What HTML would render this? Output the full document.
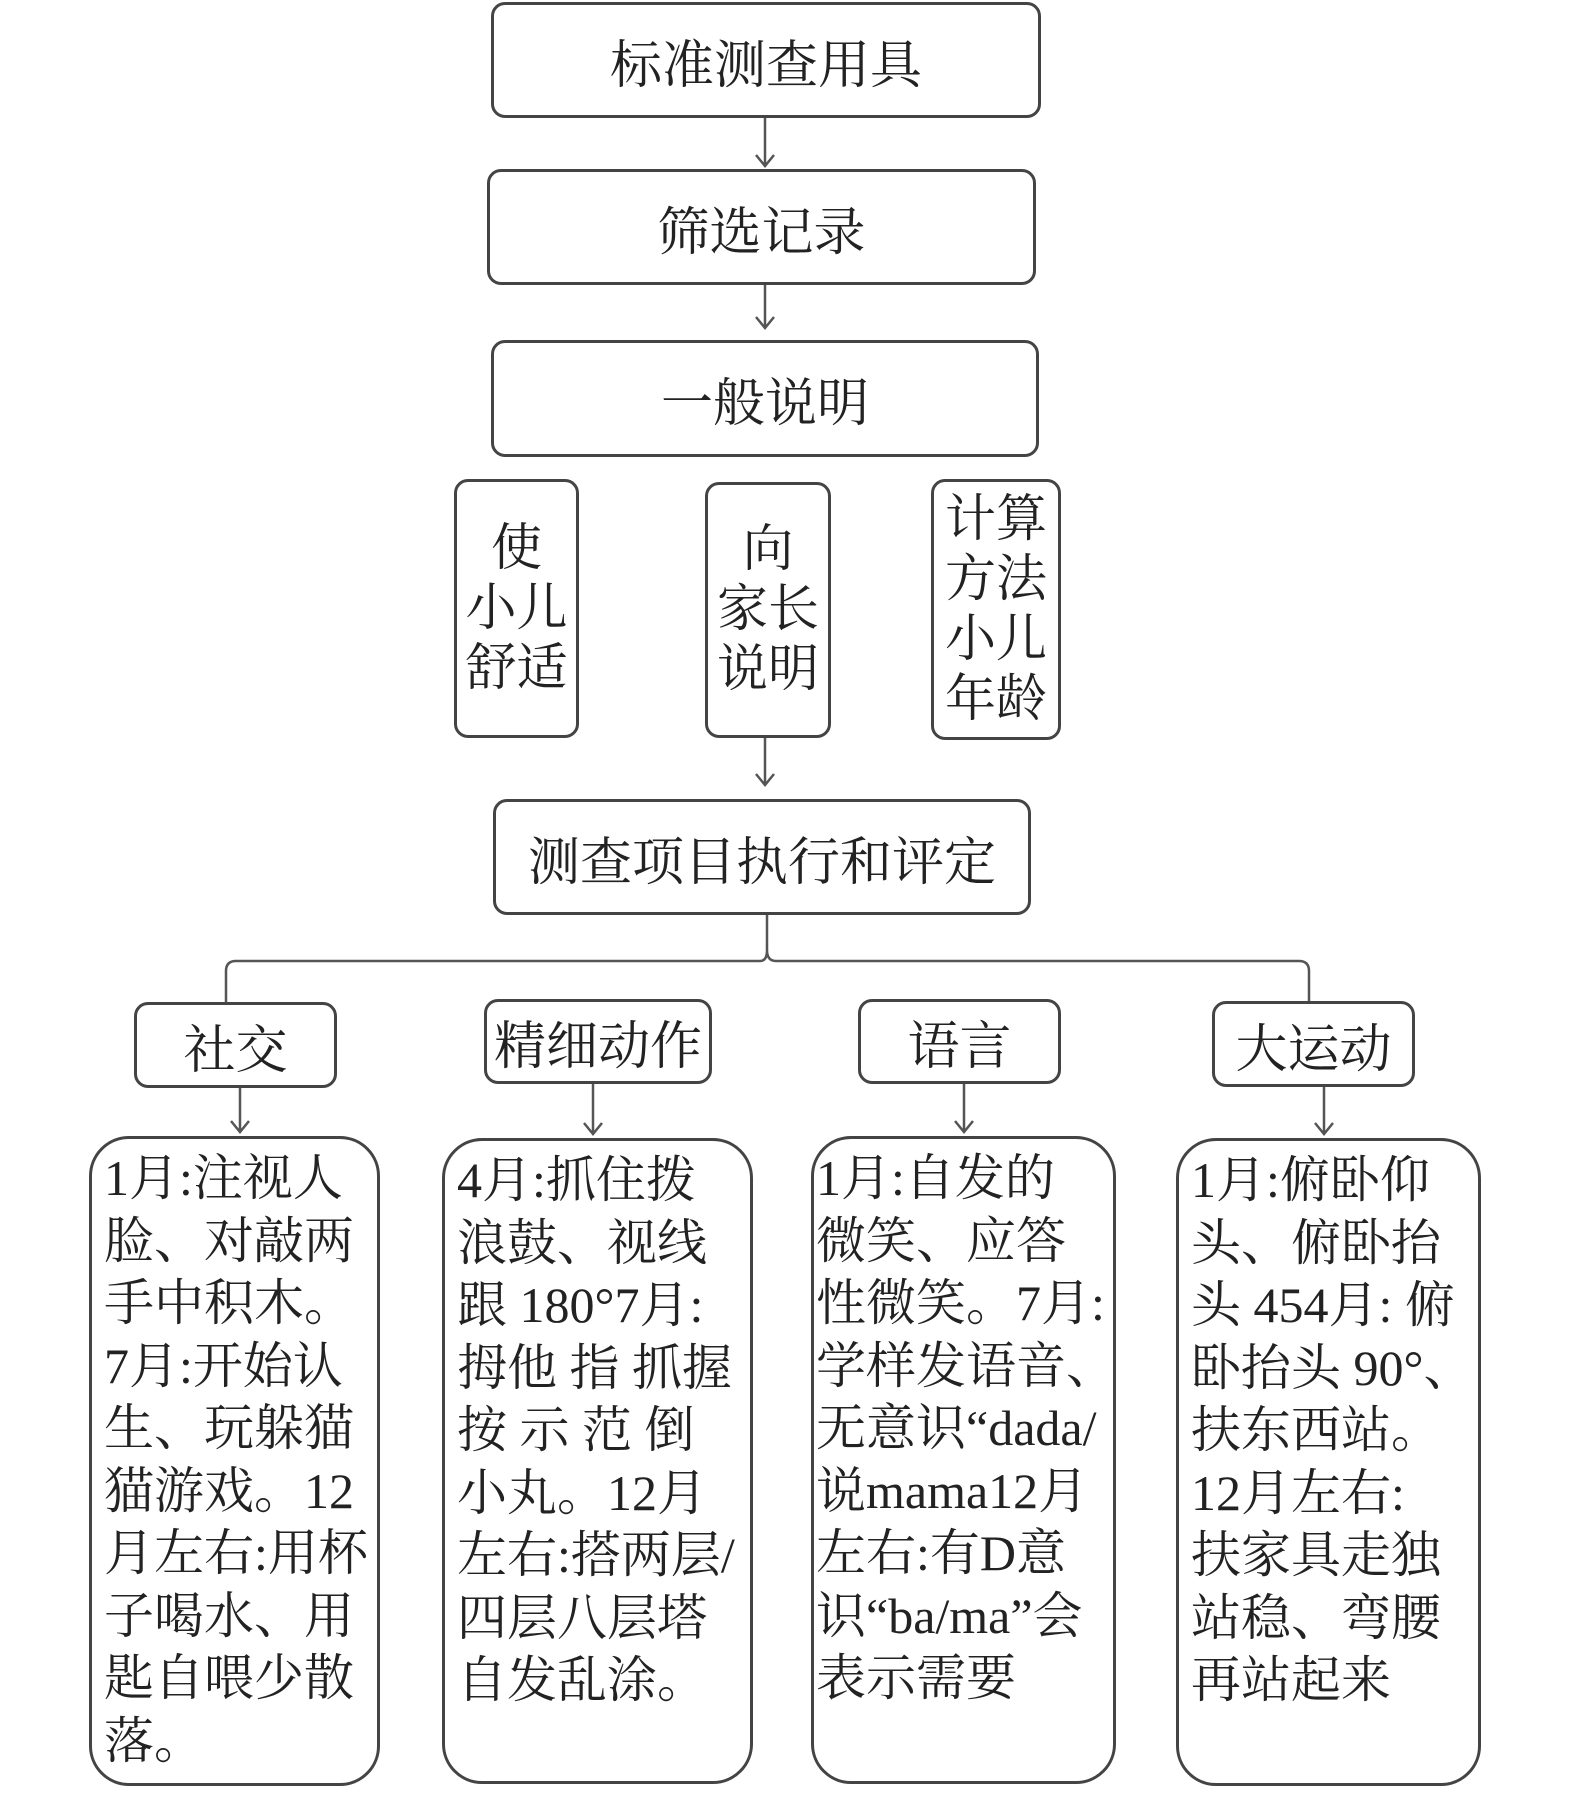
<!DOCTYPE html>
<html><head><meta charset="utf-8"><style>
body{margin:0;width:1575px;height:1798px;background:#fff;position:relative;overflow:hidden;font-family:"Liberation Serif","Noto Serif CJK SC",serif;color:#222}
.b{position:absolute;border:3px solid #444;border-radius:14px;box-sizing:border-box;background:#fff}
.c{display:flex;align-items:center;justify-content:center;font-size:52px}
.v{display:flex;align-items:center;justify-content:center;text-align:center;font-size:51px;line-height:60px}
.t{font-size:50px;line-height:62.5px;padding:8px 0 0 12px;white-space:nowrap;border-radius:40px}
svg{position:absolute;left:0;top:0}
</style></head><body>
<svg width="1575" height="1798" fill="none" stroke="#555" stroke-width="2.5">
<path d="M765 118V166M756 155L765 166L774 155"/>
<path d="M765 285V328M756 317L765 328L774 317"/>
<path d="M765 738V785M756 774L765 785L774 774"/>
<path d="M767 915V950Q767 961 760 961H236Q226 961 226 971V1002M767 950Q767 961 776 961H1299Q1309 961 1309 971V1001"/>
<path d="M240 1088V1132M231 1121L240 1132L249 1121"/>
<path d="M593 1084V1134M584 1123L593 1134L602 1123"/>
<path d="M964 1084V1132M955 1121L964 1132L973 1121"/>
<path d="M1324 1087V1134M1315 1123L1324 1134L1333 1123"/>
</svg>
<div class="b c" style="left:491px;top:2px;width:550px;height:116px">标准测查用具</div>
<div class="b c" style="left:487px;top:169px;width:549px;height:116px">筛选记录</div>
<div class="b c" style="left:491px;top:340px;width:548px;height:117px">一般说明</div>
<div class="b v" style="left:454px;top:479px;width:125px;height:259px">使<br>小儿<br>舒适</div>
<div class="b v" style="left:705px;top:482px;width:126px;height:256px">向<br>家长<br>说明</div>
<div class="b v" style="left:931px;top:479px;width:130px;height:261px">计算<br>方法<br>小儿<br>年龄</div>
<div class="b c" style="left:493px;top:799px;width:538px;height:116px">测查项目执行和评定</div>
<div class="b c" style="left:134px;top:1002px;width:203px;height:86px">社交</div>
<div class="b c" style="left:484px;top:999px;width:228px;height:85px">精细动作</div>
<div class="b c" style="left:858px;top:999px;width:203px;height:85px">语言</div>
<div class="b c" style="left:1212px;top:1001px;width:203px;height:86px">大运动</div>
<div class="b t" style="left:89px;top:1136px;width:291px;height:650px">1月:注视人<br>脸、对敲两<br>手中积木。<br>7月:开始认<br>生、玩躲猫<br>猫游戏。12<br>月左右:用杯<br>子喝水、用<br>匙自喂少散<br>落。</div>
<div class="b t" style="left:442px;top:1138px;width:311px;height:646px">4月:抓住拨<br>浪鼓、视线<br>跟 180°7月:<br>拇他 指 抓握<br>按 示 范 倒<br>小丸。12月<br>左右:搭两层/<br>四层八层塔<br>自发乱涂。</div>
<div class="b t" style="left:811px;top:1136px;width:305px;height:648px;padding-left:2px">1月:自发的<br>微笑、应答<br>性微笑。7月:<br>学样发语音、<br>无意识“dada/<br>说mama12月<br>左右:有D意<br>识“ba/ma”会<br>表示需要</div>
<div class="b t" style="left:1176px;top:1138px;width:305px;height:648px">1月:俯卧仰<br>头、俯卧抬<br>头 454月: 俯<br>卧抬头 90°、<br>扶东西站。<br>12月左右:<br>扶家具走独<br>站稳、弯腰<br>再站起来</div>
</body></html>
